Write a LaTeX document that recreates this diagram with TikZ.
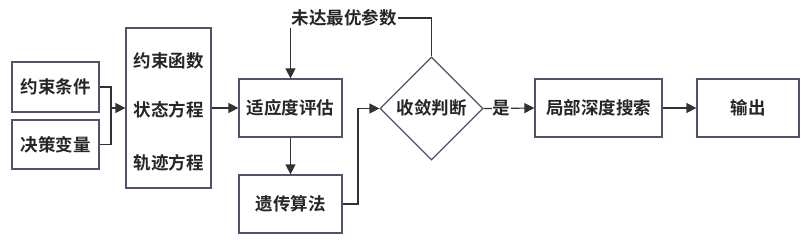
\documentclass[tikz,border=0pt]{standalone}
\usepackage{fontspec}
\setmainfont{Noto Sans CJK SC}[BoldFont={* Bold}]
\usetikzlibrary{shapes.geometric,arrows.meta}
\begin{document}
\begin{tikzpicture}[x=1pt,y=-1pt,
  box/.style={draw=boxc,line width=1.2pt,minimum height=0pt,minimum width=0pt,inner sep=0pt,fill=white},
  lbl/.style={font=\fontsize{17.5}{20}\selectfont\bfseries,text=black!85},
  conn/.style={draw=linec,line width=1.2pt},
  arr/.style={conn,-{Triangle[length=10pt,width=10pt]}}]
\definecolor{boxc}{RGB}{80,82,110}
\definecolor{linec}{RGB}{50,50,50}
\useasboundingbox (0,0) rectangle (806,246);
% boxes
\node[box,lbl,minimum width=87pt,minimum height=50pt] (yt) at (55.5,87) {约束条件};
\node[box,lbl,minimum width=87pt,minimum height=49pt] (jc) at (55.5,144.5) {决策变量};
\node[box,minimum width=85pt,minimum height=160pt] (big) at (168.5,108) {};
\node[lbl] (f1) at (168.5,61) {约束函数};
\node[lbl] (f2) at (168.5,110) {状态方程};
\node[lbl] (f3) at (168.5,163) {轨迹方程};
\node[box,lbl,minimum width=103pt,minimum height=58pt] (sy) at (290.5,108) {适应度评估};
\node[box,lbl,minimum width=103pt,minimum height=58pt] (yc) at (290.5,204) {遗传算法};
\node[box,diamond,aspect=1,minimum width=103pt,minimum height=103pt] (sl) at (431.5,108.5) {};
\node[lbl] (sltext) at (431.5,108) {收敛判断};
\node[box,lbl,minimum width=127pt,minimum height=58pt] (jb) at (598.5,108) {局部深度搜索};
\node[box,lbl,minimum width=102pt,minimum height=58pt] (sc) at (748,108) {输出};
\node[lbl,inner sep=1pt] (wd) at (344,18) {未达最优参数};
\coordinate (m) at (111,108);
\coordinate (bend) at (358,204);
% connectors
\draw[conn] (yt.east) -| (m);
\draw[conn] (jc.east) -| (m);
\draw[arr] (m) -- (big.west);
\draw[arr] (big.east |- sy.west) -- (sy.west);
\draw[arr] (sy.south) -- (yc.north);
\draw[arr] (yc.east) -- (bend) |- (sl.west);
\draw[conn] (sl.north) |- (wd.east);
\draw[arr] (sy.north |- wd.south) -- (sy.north);
\draw[arr] (sl.east) -- node[lbl,fill=white,inner sep=1pt,pos=0.35] (shi) {是} (jb.west);
\draw[arr] (jb.east) -- (sc.west);
\end{tikzpicture}
\end{document}
